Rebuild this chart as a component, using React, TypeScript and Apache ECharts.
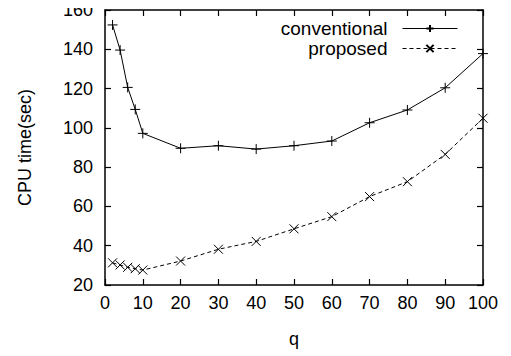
import React, { useEffect, useRef } from "react";
import * as echarts from "echarts";

const qValues = [2, 4, 6, 8, 10, 20, 30, 40, 50, 60, 70, 80, 90, 100];
const conventional = [152.4, 139.6, 120.6, 109.4, 97.2, 89.6, 90.9, 89.2, 90.9, 93.3, 102.6, 109.1, 120.4, 137.8];
const proposed = [31.3, 30.2, 29.0, 28.3, 27.6, 32.2, 38.2, 42.2, 48.6, 54.8, 65.0, 72.6, 86.5, 104.9];
const seriesNames = ["conventional", "proposed"];
const xLabel = "q";
const yLabel = "CPU time(sec)";

const FONT = "Liberation Sans, Arial, Helvetica, sans-serif";
const PLUS = "path://M5,0L5,10M0,5L10,5";
const CROSS = "path://M0,0L10,10M0,10L10,0";

export default function App() {
  const ref = useRef<HTMLDivElement>(null);
  useEffect(() => {
    if (!ref.current) return;
    const chart = echarts.init(ref.current, null, { renderer: "svg" });
    const axisCommon = {
      type: "value" as const,
      axisLine: { show: true, onZero: false, lineStyle: { color: "#000", width: 1.5 } },
      axisTick: { show: true, inside: true, length: 6, lineStyle: { color: "#000", width: 1.2 } },
      splitLine: { show: false },
    };
    const labelStyle = { color: "#000", fontSize: 18, fontFamily: FONT };
    const legendCommon = {
      orient: "vertical" as const,
      align: "right" as const,
      right: 53,
      padding: 0,
      itemWidth: 55,
      itemHeight: 9,
      textStyle: { ...labelStyle, fontSize: 19, padding: [0, 10, 0, 0] },
      lineStyle: { width: 1 },
      selectedMode: false,
    };
    chart.setOption({
      animation: false,
      backgroundColor: "#fff",
      grid: { left: 105, right: 28, top: 10, bottom: 71, containLabel: false },
      xAxis: [
        {
          ...axisCommon,
          min: 0,
          max: 100,
          interval: 10,
          position: "bottom",
          axisLabel: { ...labelStyle, margin: 9 },
          name: xLabel,
          nameLocation: "middle",
          nameGap: 45,
          nameTextStyle: { ...labelStyle },
        },
        {
          ...axisCommon,
          min: 0,
          max: 100,
          interval: 10,
          position: "top",
          axisLabel: { show: false },
        },
      ],
      yAxis: [
        {
          ...axisCommon,
          min: 20,
          max: 160,
          interval: 20,
          position: "left",
          axisLabel: { ...labelStyle, margin: 12 },
          name: yLabel,
          nameLocation: "middle",
          nameGap: 71,
          nameTextStyle: { ...labelStyle },
        },
        {
          ...axisCommon,
          min: 20,
          max: 160,
          interval: 20,
          position: "right",
          axisLabel: { show: false },
        },
      ],
      legend: [
        { ...legendCommon, data: [seriesNames[0]], top: 19 },
        { ...legendCommon, data: [seriesNames[1]], top: 39 },
      ],
      series: [
        {
          name: seriesNames[0],
          type: "line",
          data: qValues.map((q, i) => [q, conventional[i]]),
          symbol: PLUS,
          symbolSize: 10,
          showAllSymbol: true,
          lineStyle: { color: "#000", width: 1, type: "solid" },
          itemStyle: { color: "#000", borderColor: "#000", borderWidth: 1 },
        },
        {
          name: seriesNames[1],
          type: "line",
          data: qValues.map((q, i) => [q, proposed[i]]),
          symbol: CROSS,
          symbolSize: 9,
          showAllSymbol: true,
          lineStyle: { color: "#000", width: 1, type: [4, 3] },
          itemStyle: { color: "#000", borderColor: "#000", borderWidth: 1 },
        },
      ],
    });
    return () => chart.dispose();
  }, []);
  return <div ref={ref} style={{ width: 511, height: 356, marginLeft: -8, marginTop: -8 }} />;
}
